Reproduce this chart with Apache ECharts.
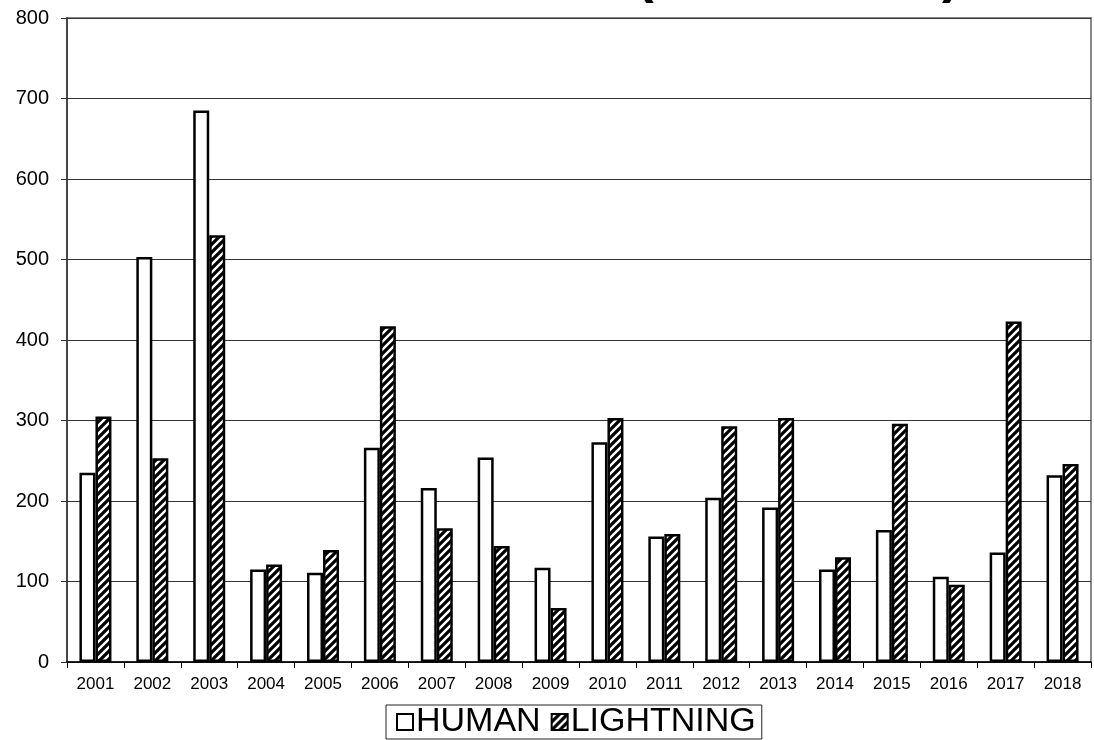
<!DOCTYPE html>
<html>
<head>
<meta charset="utf-8">
<script src="https://cdn.jsdelivr.net/npm/echarts@6/dist/echarts.min.js"></script>
<style>
html,body{margin:0;padding:0;background:#fff;}
#chart{width:1094px;height:740px;}
</style>
</head>
<body>
<div id="chart"></div>
<script>
const titleText = 'WILDFIRES BY CAUSE (2001 - 2018)';
const years = ['2001','2002','2003','2004','2005','2006','2007','2008','2009','2010','2011','2012','2013','2014','2015','2016','2017','2018'];
const human = [235, 503, 685, 115, 111, 266, 216, 254, 117, 273, 156, 204, 192, 115, 164, 106, 136, 232];
const lightning = [305, 253, 530, 121, 139, 417, 166, 144, 67, 303, 159, 293, 303, 130, 296, 96, 423, 246];
const seriesNames = ['HUMAN', 'LIGHTNING'];

function makeHatch() {
  const s = 8;
  const c = document.createElement('canvas');
  c.width = s; c.height = s;
  const g = c.getContext('2d');
  g.fillStyle = '#fff';
  g.fillRect(0, 0, s, s);
  g.strokeStyle = '#000';
  g.lineWidth = 3.2;
  g.lineCap = 'square';
  g.beginPath();
  g.moveTo(-1, s + 1); g.lineTo(s + 1, -1);
  g.moveTo(-2, 2); g.lineTo(2, -2);
  g.moveTo(s - 2, s + 2); g.lineTo(s + 2, s - 2);
  g.stroke();
  return c;
}
const hatch = makeHatch();

const chart = echarts.init(document.getElementById('chart'), null, {renderer: 'canvas'});
const font = 'Arial, "Liberation Sans", sans-serif';
chart.setOption({
  animation: false,
  backgroundColor: '#fff',
  textStyle: {fontFamily: font, color: '#000'},
  graphic: [{
    type: 'text',
    x: 960,
    y: 4,
    z: 100,
    style: {
      text: titleText,
      font: 'bold 54px Arial, "Liberation Sans", sans-serif',
      fill: '#000',
      textAlign: 'right',
      textVerticalAlign: 'bottom'
    }
  }],
  grid: {
    left: 67, right: 3, top: 18, bottom: 78,
    show: true, borderColor: '#888', borderWidth: 2, backgroundColor: 'transparent'
  },
  legend: {
    left: 386, top: 705,
    data: seriesNames,
    icon: 'rect',
    itemWidth: 16, itemHeight: 16, itemGap: 10,
    borderColor: '#222', borderWidth: 1,
    padding: [0, 6, 0, 10],
    textStyle: {fontSize: 34, color: '#000', fontFamily: font, padding: [0, 0, 0, -2]}
  },
  xAxis: {
    type: 'category',
    data: years,
    axisLine: {lineStyle: {color: '#000', width: 1.5}},
    axisTick: {show: true, length: 6, inside: false, lineStyle: {color: '#000'}},
    axisLabel: {fontSize: 17, color: '#000', margin: 14, fontFamily: font},
    splitLine: {show: false}
  },
  yAxis: {
    type: 'value',
    min: 0, max: 800, interval: 100,
    axisLine: {show: true, lineStyle: {color: '#333', width: 1.5}},
    axisTick: {show: true, length: 6, lineStyle: {color: '#333'}},
    axisLabel: {fontSize: 20, color: '#000', margin: 18, fontFamily: font},
    splitLine: {show: true, lineStyle: {color: '#333', width: 1}}
  },
  series: [
    {
      name: seriesNames[0], type: 'bar', data: human,
      barWidth: 16, barGap: '0%',
      itemStyle: {color: '#fff', borderColor: '#000', borderWidth: 2.5}
    },
    {
      name: seriesNames[1], type: 'bar', data: lightning,
      barWidth: 16, barGap: '0%',
      itemStyle: {color: {image: hatch, repeat: 'repeat'}, borderColor: '#000', borderWidth: 2.5}
    }
  ]
});
</script>
</body>
</html>
